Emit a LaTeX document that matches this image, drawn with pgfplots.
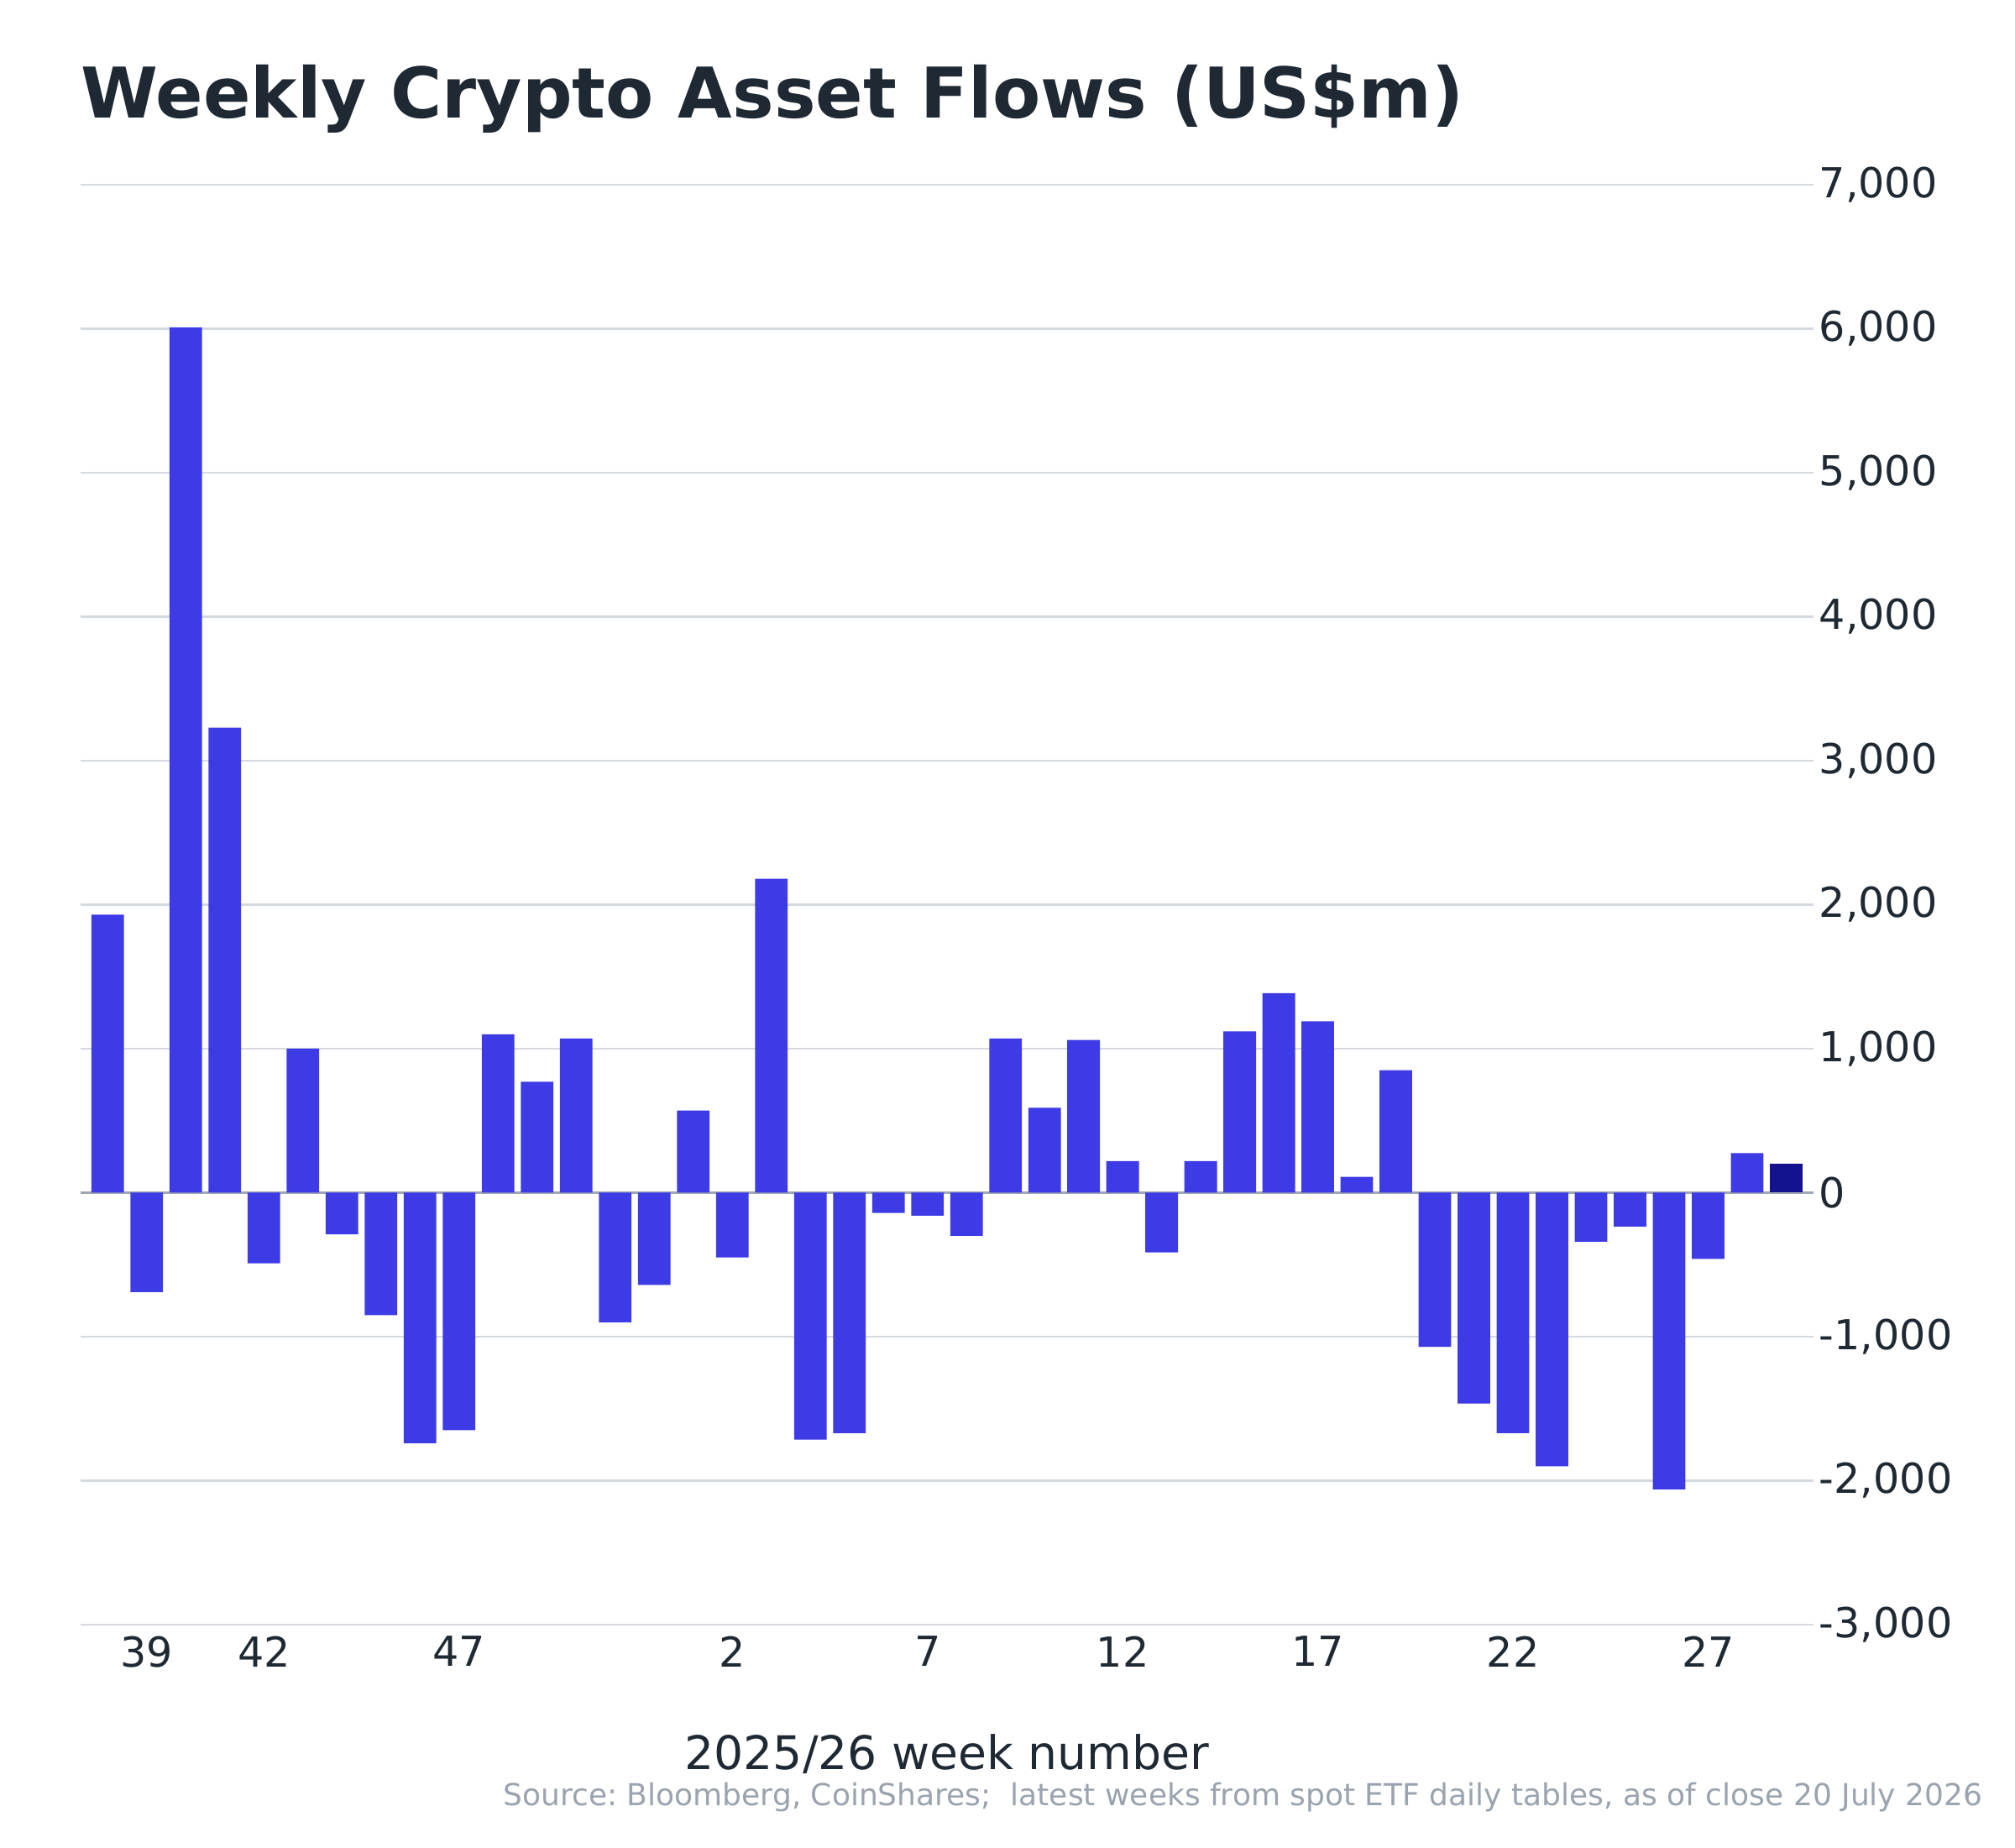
\documentclass[border=0pt]{standalone}
\usepackage{pgfplots}
\pgfplotsset{compat=1.18}
\usepackage{fontspec}
\setmainfont{DejaVu Sans}
\definecolor{barblue}{HTML}{3D3BE6}
\definecolor{barnavy}{HTML}{14128F}
\definecolor{gridc}{HTML}{D5DAE0}
\definecolor{zeroc}{HTML}{A0A8B4}
\definecolor{txt}{HTML}{1F2933}
\definecolor{srcc}{HTML}{9AA3AE}
\frenchspacing
\begin{document}
\begin{tikzpicture}
\useasboundingbox (0,0) rectangle (240mm,220mm);
\begin{axis}[
  at={(9.58mm,26.5mm)}, anchor=south west,
  scale only axis, width=206.42mm, height=171.5mm,
  xmin=-0.7, xmax=43.7, ymin=-3000, ymax=7000,
  axis line style={draw=none},
  major tick length=0pt,
  ytick={-3000,-2000,...,7000},
  yticklabel pos=right,
  ymajorgrids,
  grid style={gridc, line width=0.25mm},
  extra y ticks={0},
  extra y tick labels={},
  extra y tick style={grid style={zeroc, line width=0.3mm}},
  /pgf/number format/assume math mode=true,
  /pgf/number format/1000 sep={,},
  y tick label style={anchor=west, inner sep=0pt, xshift=0.6mm, font=\fontsize{14}{16}\selectfont, text=txt},
  xtick={1,4,9,16,21,26,31,36,41},
  xticklabels={39,42,47,2,7,12,17,22,27},
  x tick label style={anchor=north, inner sep=0pt, yshift=-1.3mm, font=\fontsize{14}{16}\selectfont, text=txt},
]
\addplot[ybar, bar shift=0pt, bar width=3.88mm, fill=barblue, draw=none] coordinates {
(0,1930) (1,-690) (2,6010) (3,3230) (4,-490) (5,1000) (6,-290) (7,-850) (8,-1740) (9,-1650)
(10,1100) (11,770) (12,1070) (13,-900) (14,-640) (15,570) (16,-450) (17,2180) (18,-1715) (19,-1670)
(20,-140) (21,-160) (22,-300) (23,1070) (24,590) (25,1060) (26,220) (27,-415) (28,220) (29,1120)
(30,1385) (31,1190) (32,110) (33,850) (34,-1070) (35,-1465) (36,-1670) (37,-1900) (38,-340) (39,-235)
(40,-2060) (41,-460) (42,275)
};
\addplot[ybar, bar shift=0pt, bar width=3.88mm, fill=barnavy, draw=none] coordinates {(43,200)};
\end{axis}
\node[anchor=base west, inner sep=0pt, font=\fontsize{23.7}{28}\selectfont\bfseries, text=txt] at (9.6mm,205.9mm) {Weekly Crypto Asset Flows (US\$m)};
\node[anchor=center, inner sep=0pt, font=\fontsize{15.7}{19}\selectfont, text=txt] at (112.8mm,11.1mm) {2025/26 week number};
\node[anchor=base east, inner sep=0pt, font=\fontsize{10.25}{12}\selectfont, text=srcc] at (236.2mm,5.0mm) {Source: Bloomberg, CoinShares;\ \ latest weeks from spot ETF daily tables, as of close 20 July 2026};
\end{tikzpicture}
\end{document}
